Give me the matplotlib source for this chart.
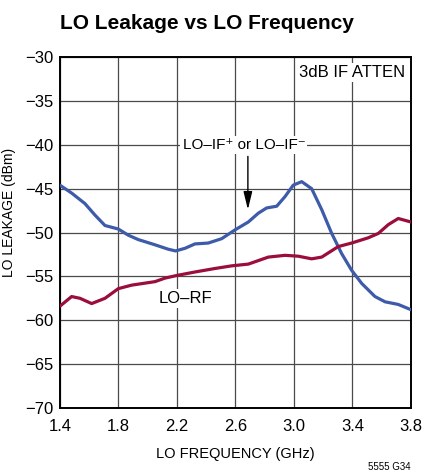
import matplotlib.pyplot as plt

plt.rcParams['font.family'] = ['Liberation Sans Narrow', 'Liberation Sans', 'DejaVu Sans']

# LO-IF+ / LO-IF- leakage (blue)
freq_if = [1.40, 1.48, 1.571, 1.639, 1.708, 1.799, 1.867, 1.935, 2.05, 2.14, 2.191, 2.255,
           2.323, 2.414, 2.506, 2.597, 2.688, 2.756, 2.813, 2.882, 2.939, 2.995, 3.053,
           3.121, 3.19, 3.258, 3.326, 3.394, 3.463, 3.554, 3.623, 3.713, 3.80]
leak_if = [-44.6, -45.5, -46.7, -48.0, -49.2, -49.6, -50.3, -50.8, -51.4, -51.9, -52.1, -51.8,
           -51.3, -51.2, -50.7, -49.7, -48.8, -47.8, -47.2, -47.0, -45.9, -44.6, -44.2,
           -45.0, -47.4, -50.1, -52.4, -54.3, -55.8, -57.3, -57.9, -58.2, -58.8]

# LO-RF leakage (red)
freq_rf = [1.40, 1.48, 1.537, 1.617, 1.708, 1.799, 1.89, 2.05, 2.118, 2.198, 2.323, 2.46,
           2.574, 2.688, 2.825, 2.939, 3.03, 3.121, 3.19, 3.303, 3.394, 3.508, 3.577,
           3.645, 3.713, 3.80]
leak_rf = [-58.4, -57.3, -57.5, -58.1, -57.5, -56.4, -56.0, -55.6, -55.2, -54.9, -54.5, -54.1,
           -53.8, -53.6, -52.8, -52.6, -52.7, -53.0, -52.8, -51.6, -51.2, -50.6, -50.1,
           -49.1, -48.4, -48.8]

xticks = [1.4, 1.8, 2.2, 2.6, 3.0, 3.4, 3.8]
yticks = [-30, -35, -40, -45, -50, -55, -60, -65, -70]

fig = plt.figure(figsize=(4.25, 4.76), dpi=100)
ax = fig.add_axes([0.141, 0.143, 0.826, 0.737])

ax.plot(freq_if, leak_if, color='#3d5ba9', linewidth=2.3, zorder=3,
        solid_joinstyle='round', solid_capstyle='round')
ax.plot(freq_rf, leak_rf, color='#9a0d3c', linewidth=2.3, zorder=3,
        solid_joinstyle='round', solid_capstyle='round')

ax.set_xlim(1.4, 3.8)
ax.set_ylim(-70, -30)
ax.set_xticks(xticks)
ax.set_yticks(yticks)
ax.set_xticklabels(['{:.1f}'.format(t) for t in xticks])
ax.set_yticklabels(['\u2212{}'.format(-t) for t in yticks])
ax.tick_params(length=0, labelsize=12, pad=5)
ax.tick_params(axis='x', pad=8)
ax.grid(True, color='#4a4a4a', linewidth=0.9, zorder=1)
for s in ax.spines.values():
    s.set_linewidth(1.4)

ax.set_xlabel('LO FREQUENCY (GHz)', fontsize=10.5, labelpad=9)
ax.set_ylabel('LO LEAKAGE (dBm)', fontsize=10, labelpad=4)
ax.yaxis.set_label_coords(-0.125, 0.556)

fig.text(0.141, 0.950, 'LO Leakage vs LO Frequency', fontsize=15, fontweight='bold',
         ha='left', va='center')

box = dict(facecolor='white', edgecolor='none', pad=1.5)
ax.text(3.76, -31.8, '3dB IF ATTEN', fontsize=12, ha='right', va='center', bbox=box, zorder=4)
ax.text(2.658, -40.0, 'LO\u2013IF\u207a or LO\u2013IF\u207b', fontsize=11, ha='center', va='center',
        bbox=box, zorder=4)
ax.text(2.255, -57.5, 'LO\u2013RF', fontsize=12, ha='center', va='center', bbox=box, zorder=4)
ax.annotate('', xy=(2.685, -47.7), xytext=(2.685, -41.0),
            arrowprops=dict(arrowstyle='-|>,head_width=0.22,head_length=0.9',
                            color='black', lw=1.0, mutation_scale=12), zorder=5)

fig.text(0.965, 0.018, '5555 G34', fontsize=7, ha='right', va='center')

plt.savefig('out.png', dpi=100)
